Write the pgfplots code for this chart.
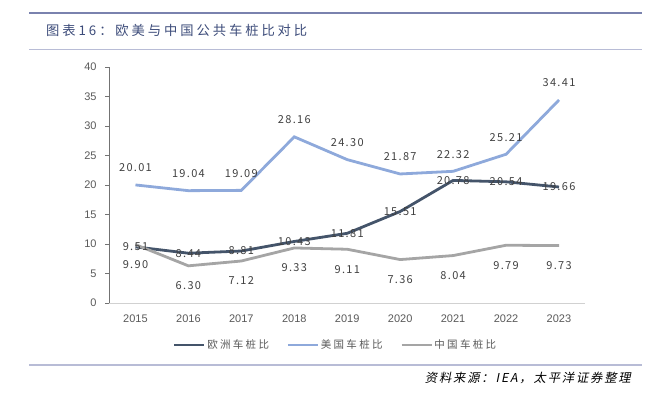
\documentclass[border=0pt]{standalone}
\usepackage{pgfplots}
\pgfplotsset{compat=1.18}
\usepackage{fontspec}
\setmainfont{Liberation Sans}
\newfontfamily\cjk{Noto Sans CJK SC}
\newfontfamily\cjkt[LetterSpace=22]{Noto Sans CJK SC}
\newfontfamily\cjkl[LetterSpace=22]{Noto Sans CJK SC}
\newfontfamily\cjkn[LetterSpace=12]{Noto Sans CJK SC}
\newfontfamily\cjkit[FakeSlant=0.2,LetterSpace=15]{Noto Sans CJK SC}
\definecolor{eu}{HTML}{44546A}
\definecolor{us}{HTML}{8EA9DB}
\definecolor{cn}{HTML}{A5A5A5}
\definecolor{txt}{HTML}{595959}
\definecolor{lbl}{HTML}{404040}
\definecolor{rulec}{HTML}{7A82AE}
\definecolor{rulel}{HTML}{B8BCD6}
\definecolor{ttl}{HTML}{3D4C7A}
\begin{document}
\begin{tikzpicture}[x=1pt,y=1pt]
\path (0,0) rectangle (649,394);
\draw[rulec, line width=2.5pt] (29,381) -- (642,381);
\draw[rulel, line width=0.8pt] (29,345) -- (642,345);
\draw[rulel, line width=1.2pt] (29,29) -- (642,29);
\node[anchor=west, text=ttl, font=\cjkt\fontsize{13.3}{15}\selectfont, inner sep=0] at (46,364) {图表16：欧美与中国公共车桩比对比};
\node[anchor=east, text=black, font=\cjkit\fontsize{12.3}{14}\selectfont, inner sep=0] at (631,16) {资料来源：IEA，太平洋证券整理};
\begin{axis}[
  at={(109pt,91pt)}, anchor=south west,
  scale only axis, width=476.5pt, height=236pt,
  xmin=2014.5, xmax=2023.5, ymin=0, ymax=40,
  axis x line=bottom, axis y line=left,
  axis line style={-},
  x axis line style={draw=black!18, line width=0.8pt},
  y axis line style={draw=black!55, line width=0.8pt},
  xtick={2015,...,2023}, ytick={0,5,...,40},
  x tick style={draw=none}, y tick style={draw=black!55, line width=0.8pt},
  tick align=outside, major tick length=4pt,
  /pgf/number format/assume math mode=true,
  xticklabel style={/pgf/number format/1000 sep={}, text=txt, font=\fontsize{11}{13}\selectfont, yshift=-4pt},
  yticklabel style={text=txt, font=\fontsize{11}{13}\selectfont, xshift=-5pt},
  nodes near coords,
  nodes near coords style={/pgf/number format/.cd, fixed, fixed zerofill, precision=2, /tikz/.cd, text=lbl, font=\cjkn\fontsize{11}{13}\selectfont, inner sep=0},
  legend style={at={(0.475,-0.178)}, anchor=center, draw=none, fill=none, legend columns=3,
    font=\cjkl\fontsize{10.5}{12}\selectfont, text=txt,
    nodes={inner sep=1.5pt},
    /tikz/every even column/.append style={column sep=16pt}},
  legend image code/.code={\draw[#1] (0pt,0pt) -- (30pt,0pt);},
]
\addplot[color=eu, line width=2.8pt, nodes near coords style={anchor=center}] coordinates {
(2015,9.51) (2016,8.44) (2017,8.81) (2018,10.43) (2019,11.81) (2020,15.51) (2021,20.78) (2022,20.54) (2023,19.66)};
\addlegendentry{欧洲车桩比}
\addplot[color=us, line width=2.8pt, nodes near coords style={anchor=center, yshift=17pt}] coordinates {
(2015,20.01) (2016,19.04) (2017,19.09) (2018,28.16) (2019,24.30) (2020,21.87) (2021,22.32) (2022,25.21) (2023,34.41)};
\addlegendentry{美国车桩比}
\addplot[color=cn, line width=2.8pt, nodes near coords style={anchor=center, yshift=-20pt}] coordinates {
(2015,9.90) (2016,6.30) (2017,7.12) (2018,9.33) (2019,9.11) (2020,7.36) (2021,8.04) (2022,9.79) (2023,9.73)};
\addlegendentry{中国车桩比}
\end{axis}
\end{tikzpicture}
\end{document}
